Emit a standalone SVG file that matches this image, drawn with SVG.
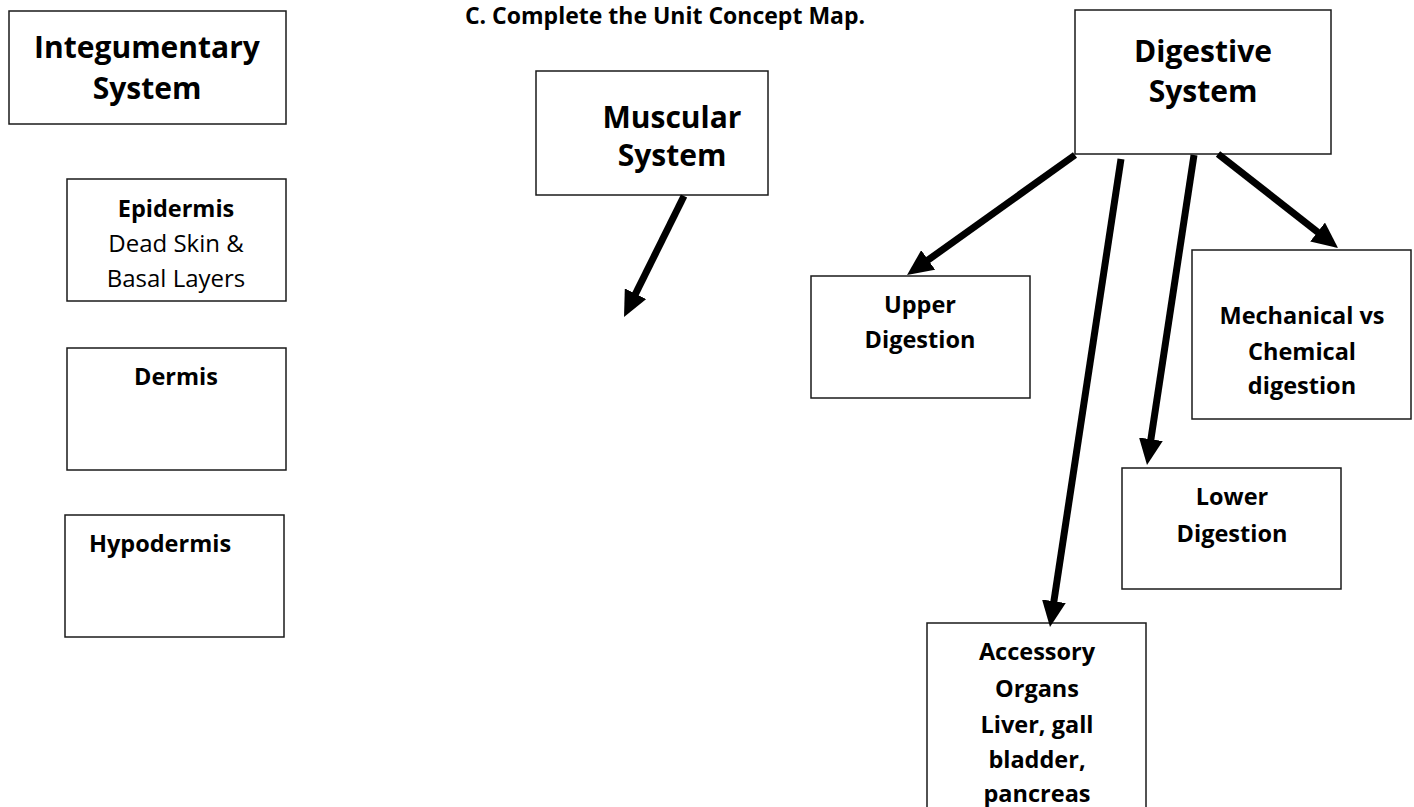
<svg xmlns="http://www.w3.org/2000/svg" width="1414" height="807" viewBox="0 0 1414 807">
<style>
.box{fill:#fff;stroke:#1a1a1a;stroke-width:1.5}
text{font-family:"Open Sans","Noto Sans","Liberation Sans",sans-serif;fill:#000;text-anchor:middle}
.t{font-size:30px;font-weight:bold}
.s{font-size:23.5px;font-weight:bold}
.r{font-size:24px;font-weight:normal}
.ttl{font-size:23px;font-weight:bold}
.conn{stroke:#000;stroke-width:7;fill:none;marker-end:url(#ah)}
</style>
<defs>
<marker id="ah" markerUnits="userSpaceOnUse" markerWidth="26" markerHeight="24" refX="6" refY="12" orient="auto">
<path d="M0,0 L26,12 L0,24 z" fill="#000"/>
</marker>
</defs>
<rect width="1414" height="807" fill="#fff"/>
<text class="ttl" x="665" y="24">C. Complete the Unit Concept Map.</text>

<g id="integumentary">
<rect class="box" x="9" y="11" width="277" height="113"/>
<text class="t" x="147" y="58">Integumentary</text>
<text class="t" x="147" y="99">System</text>
</g>
<g id="epidermis">
<rect class="box" x="67" y="179" width="219" height="122"/>
<text class="s" x="176" y="217">Epidermis</text>
<text class="r" x="176" y="252">Dead Skin &amp;</text>
<text class="r" x="176" y="287">Basal Layers</text>
</g>
<g id="dermis">
<rect class="box" x="67" y="348" width="219" height="122"/>
<text class="s" x="176" y="385">Dermis</text>
</g>
<g id="hypodermis">
<rect class="box" x="65" y="515" width="219" height="122"/>
<text class="s" x="160" y="552">Hypodermis</text>
</g>
<g id="muscular">
<rect class="box" x="536" y="71" width="232" height="124"/>
<text class="t" x="672" y="128">Muscular</text>
<text class="t" x="672" y="166">System</text>
</g>
<g id="digestive">
<rect class="box" x="1075" y="10" width="256" height="144"/>
<text class="t" x="1203" y="62">Digestive</text>
<text class="t" x="1203" y="102">System</text>
</g>
<g id="upper">
<rect class="box" x="811" y="276" width="219" height="122"/>
<text class="s" x="920" y="313">Upper</text>
<text class="s" x="920" y="348">Digestion</text>
</g>
<g id="mechanical">
<rect class="box" x="1192" y="250" width="219" height="169"/>
<text class="s" x="1302" y="324">Mechanical vs</text>
<text class="s" x="1302" y="360">Chemical</text>
<text class="s" x="1302" y="394">digestion</text>
</g>
<g id="lower">
<rect class="box" x="1122" y="468" width="219" height="121"/>
<text class="s" x="1232" y="505">Lower</text>
<text class="s" x="1232" y="542">Digestion</text>
</g>
<g id="accessory">
<rect class="box" x="927" y="623" width="219" height="200"/>
<text class="s" x="1037" y="660">Accessory</text>
<text class="s" x="1037" y="697">Organs</text>
<text class="s" x="1037" y="733">Liver, gall</text>
<text class="s" x="1037" y="768">bladder,</text>
<text class="s" x="1037" y="802">pancreas</text>
</g>

<g id="connectors">
<line class="conn" x1="684" y1="196" x2="632.9" y2="299.1"/>
<line class="conn" x1="1075" y1="155" x2="923.3" y2="263.4"/>
<line class="conn" x1="1121" y1="159" x2="1053" y2="607.2"/>
<line class="conn" x1="1194" y1="155" x2="1150" y2="445.2"/>
<line class="conn" x1="1218" y1="154" x2="1322.3" y2="235.7"/>
</g>
</svg>
